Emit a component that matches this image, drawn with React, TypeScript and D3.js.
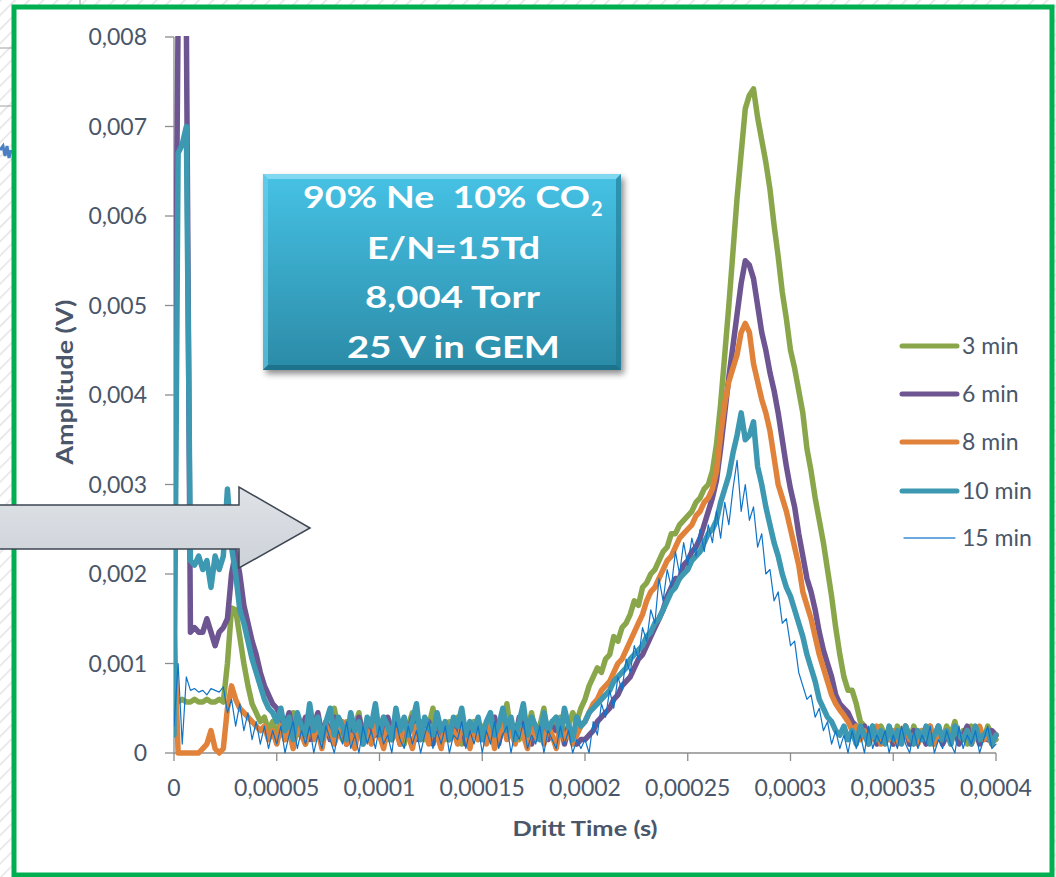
import React from "react";
import * as d3 from "d3";

// Sampling grid of the oscilloscope traces (microseconds); amplitudes in mV.
const timeUs: number[] = d3.range(0, 401, 2);

const xTickValues = [0, 50, 100, 150, 200, 250, 300, 350, 400];
const xTickLabels = ["0", "0,00005", "0,0001", "0,00015", "0,0002", "0,00025", "0,0003", "0,00035", "0,0004"];
const yTickValues = [0, 1, 2, 3, 4, 5, 6, 7, 8];
const yTickLabels = ["0", "0,001", "0,002", "0,003", "0,004", "0,005", "0,006", "0,007", "0,008"];

const seriesNames = ["3 min", "6 min", "8 min", "10 min", "15 min"];

const min3 = [
  0.57, 0.57, 0.6, 0.57, 0.57, 0.6, 0.57, 0.57, 0.6, 0.57, 0.57, 0.6, 0.57, 1.0, 1.62, 1.6, 1.3, 1.0, 0.75, 0.55, 0.45, 0.35, 0.4, 0.25, 0.35,
  0.2, 0.35, 0.15, 0.3, 0.45, 0.2, 0.3, 0.1, 0.35, 0.25, 0.4, 0.15, 0.3, 0.2, 0.5, 0.25, 0.15, 0.35, 0.2, 0.3, 0.45, 0.1, 0.3, 0.2, 0.35,
  0.25, 0.4, 0.15, 0.3, 0.2, 0.35, 0.1, 0.3, 0.45, 0.2, 0.35, 0.15, 0.3, 0.5, 0.2, 0.3, 0.15, 0.35, 0.25, 0.4, 0.1, 0.3, 0.2, 0.35, 0.15,
  0.3, 0.2, 0.4, 0.15, 0.35, 0.25, 0.55, 0.2, 0.3, 0.15, 0.35, 0.25, 0.45, 0.2, 0.3, 0.5, 0.15, 0.35, 0.25, 0.4, 0.2, 0.3, 0.45, 0.35, 0.5,
  0.6, 0.75, 0.85, 0.95, 0.9, 1.05, 1.1, 1.3, 1.25, 1.4, 1.45, 1.55, 1.7, 1.65, 1.85, 1.9, 2.0, 2.05, 2.15, 2.25, 2.3, 2.45, 2.45, 2.55, 2.6,
  2.65, 2.7, 2.8, 2.85, 2.95, 3.0, 3.15, 3.45, 3.9, 4.45, 5.0, 5.6, 6.2, 6.7, 7.2, 7.35, 7.42, 7.1, 6.85, 6.6, 6.3, 5.9, 5.55, 5.15, 4.85,
  4.5, 4.3, 4.05, 3.8, 3.4, 3.15, 2.85, 2.6, 2.35, 2.05, 1.75, 1.4, 1.1, 0.85, 0.7, 0.7, 0.55, 0.35, 0.3, 0.2, 0.3, 0.15, 0.3, 0.2, 0.25,
  0.1, 0.3, 0.2, 0.25, 0.1, 0.3, 0.15, 0.25, 0.2, 0.3, 0.1, 0.25, 0.15, 0.3, 0.2, 0.35, 0.15, 0.25, 0.1, 0.3, 0.2, 0.25, 0.15, 0.3, 0.2,
  0.15,
];

const min6 = [
  2.8, 8.2, 8.2, 8.2, 1.35, 1.4, 1.35, 1.35, 1.5, 1.35, 1.2, 1.35, 1.4, 1.5, 2.0, 2.25, 2.0, 1.65, 1.45, 1.25, 1.1, 0.9, 0.75, 0.65, 0.55,
  0.5, 0.4, 0.3, 0.45, 0.2, 0.35, 0.25, 0.4, 0.15, 0.3, 0.45, 0.2, 0.35, 0.15, 0.4, 0.25, 0.3, 0.1, 0.35, 0.2, 0.4, 0.25, 0.15, 0.35, 0.2,
  0.3, 0.15, 0.4, 0.25, 0.35, 0.1, 0.3, 0.2, 0.4, 0.15, 0.3, 0.25, 0.35, 0.1, 0.4, 0.2, 0.3, 0.15, 0.35, 0.25, 0.4, 0.1, 0.3, 0.2, 0.35,
  0.15, 0.3, 0.25, 0.4, 0.1, 0.35, 0.2, 0.3, 0.15, 0.4, 0.25, 0.35, 0.1, 0.3, 0.2, 0.4, 0.15, 0.3, 0.25, 0.35, 0.1, 0.3, 0.2, 0.1, 0.15,
  0.15, 0.2, 0.25, 0.35, 0.4, 0.45, 0.5, 0.6, 0.65, 0.75, 0.8, 0.85, 0.95, 1.05, 1.1, 1.2, 1.3, 1.4, 1.5, 1.6, 1.75, 1.85, 1.95, 1.95, 2.1,
  2.15, 2.25, 2.3, 2.4, 2.55, 2.7, 2.85, 3.05, 3.4, 3.8, 4.2, 4.55, 4.9, 5.25, 5.5, 5.45, 5.3, 5.0, 4.7, 4.5, 4.25, 4.05, 3.8, 3.5, 3.2,
  2.95, 2.75, 2.45, 2.2, 1.95, 1.8, 1.6, 1.35, 1.15, 1.0, 0.85, 0.65, 0.55, 0.5, 0.45, 0.35, 0.3, 0.2, 0.3, 0.15, 0.25, 0.1, 0.2, 0.15, 0.25,
  0.1, 0.2, 0.15, 0.3, 0.1, 0.25, 0.15, 0.2, 0.1, 0.25, 0.15, 0.3, 0.1, 0.2, 0.15, 0.25, 0.1, 0.2, 0.3, 0.15, 0.25, 0.1, 0.2, 0.15, 0.25,
  0.2,
];

const min8 = [
  1.45, 0.0, 0.0, 0.0, 0.0, 0.0, 0.0, 0.05, 0.1, 0.25, 0.05, 0.0, 0.05, 0.5, 0.75, 0.6, 0.5, 0.45, 0.4, 0.35, 0.3, 0.25, 0.3, 0.15, 0.25,
  0.1, 0.3, 0.15, 0.25, 0.05, 0.3, 0.2, 0.1, 0.35, 0.15, 0.25, 0.05, 0.3, 0.2, 0.1, 0.25, 0.35, 0.1, 0.2, 0.05, 0.3, 0.15, 0.25, 0.1, 0.3,
  0.2, 0.05, 0.3, 0.15, 0.25, 0.1, 0.35, 0.2, 0.05, 0.3, 0.15, 0.25, 0.1, 0.3, 0.2, 0.05, 0.35, 0.15, 0.25, 0.1, 0.3, 0.2, 0.05, 0.3, 0.15,
  0.25, 0.1, 0.3, 0.05, 0.2, 0.35, 0.15, 0.25, 0.1, 0.3, 0.2, 0.05, 0.35, 0.15, 0.25, 0.1, 0.3, 0.2, 0.05, 0.3, 0.15, 0.25, 0.1, 0.2, 0.3,
  0.35, 0.45, 0.55, 0.6, 0.7, 0.75, 0.8, 0.9, 1.0, 1.05, 1.15, 1.25, 1.35, 1.45, 1.55, 1.7, 1.8, 1.85, 1.95, 2.05, 2.15, 2.2, 2.3, 2.4, 2.45,
  2.5, 2.55, 2.65, 2.7, 2.8, 2.85, 2.95, 3.15, 3.55, 3.9, 4.15, 4.3, 4.45, 4.7, 4.8, 4.7, 4.35, 4.15, 3.95, 3.8, 3.6, 3.3, 3.0, 2.85, 2.7,
  2.5, 2.3, 2.1, 1.8, 1.65, 1.5, 1.3, 1.1, 0.95, 0.8, 0.65, 0.55, 0.48, 0.42, 0.35, 0.25, 0.3, 0.15, 0.25, 0.1, 0.2, 0.3, 0.1, 0.2, 0.15,
  0.25, 0.1, 0.2, 0.3, 0.15, 0.2, 0.1, 0.25, 0.15, 0.3, 0.1, 0.2, 0.15, 0.25, 0.1, 0.3, 0.2, 0.15, 0.25, 0.1, 0.2, 0.3, 0.15, 0.2, 0.1,
  0.2,
];

const min10 = [
  0.2, 6.7, 6.8, 7.0, 2.15, 2.1, 2.2, 2.05, 2.15, 1.85, 2.2, 2.05, 2.2, 2.95, 2.3, 2.0, 1.6, 1.45, 1.25, 1.05, 0.9, 0.75, 0.6, 0.5, 0.45,
  0.35, 0.5, 0.25, 0.4, 0.15, 0.45, 0.3, 0.2, 0.55, 0.25, 0.4, 0.15, 0.35, 0.5, 0.2, 0.4, 0.3, 0.15, 0.45, 0.25, 0.35, 0.1, 0.4, 0.3, 0.55,
  0.2, 0.4, 0.3, 0.15, 0.5, 0.25, 0.4, 0.2, 0.35, 0.55, 0.15, 0.4, 0.3, 0.2, 0.45, 0.25, 0.35, 0.15, 0.4, 0.3, 0.5, 0.2, 0.35, 0.25, 0.4,
  0.15, 0.35, 0.45, 0.2, 0.3, 0.5, 0.25, 0.4, 0.15, 0.35, 0.55, 0.2, 0.4, 0.3, 0.15, 0.45, 0.25, 0.35, 0.4, 0.2, 0.5, 0.3, 0.15, 0.4, 0.3,
  0.35, 0.45, 0.5, 0.55, 0.6, 0.65, 0.7, 0.8, 0.85, 0.9, 0.95, 1.05, 1.1, 1.15, 1.2, 1.3, 1.35, 1.45, 1.5, 1.6, 1.7, 1.8, 1.85, 1.95, 2.0,
  2.05, 2.15, 2.2, 2.25, 2.35, 2.45, 2.5, 2.6, 2.8, 2.95, 3.1, 3.35, 3.55, 3.8, 3.5, 3.55, 3.7, 3.2, 3.0, 2.75, 2.55, 2.35, 2.2, 2.0, 1.85,
  1.75, 1.6, 1.45, 1.3, 1.1, 0.95, 0.8, 0.6, 0.5, 0.4, 0.35, 0.25, 0.2, 0.3, 0.15, 0.25, 0.1, 0.3, 0.2, 0.1, 0.3, 0.15, 0.25, 0.1, 0.3,
  0.15, 0.25, 0.1, 0.3, 0.2, 0.1, 0.25, 0.15, 0.3, 0.1, 0.2, 0.3, 0.15, 0.25, 0.1, 0.3, 0.2, 0.15, 0.25, 0.1, 0.3, 0.15, 0.2, 0.25, 0.1,
  0.2,
];

const min15 = [
  0.3, 1.0, 0.1, 0.85, 0.7, 0.72, 0.68, 0.7, 0.65, 0.72, 0.7, 0.68, 0.74, 0.45, 0.6, 0.3, 0.55, 0.25, 0.45, 0.15, 0.35, 0.1, 0.3, 0.05, 0.25,
  0.1, 0.3, 0.0, 0.2, 0.35, 0.05, 0.25, 0.1, 0.3, 0.0, 0.2, 0.05, 0.3, 0.15, 0.0, 0.25, 0.1, 0.35, 0.05, 0.2, 0.0, 0.3, 0.1, 0.25, 0.05,
  0.3, 0.1, 0.2, 0.0, 0.35, 0.15, 0.05, 0.3, 0.1, 0.25, 0.0, 0.2, 0.35, 0.05, 0.25, 0.1, 0.3, 0.0, 0.2, 0.15, 0.35, 0.05, 0.25, 0.1, 0.3,
  0.0, 0.25, 0.1, 0.35, 0.05, 0.2, 0.3, 0.0, 0.25, 0.15, 0.35, 0.05, 0.2, 0.1, 0.3, 0.0, 0.25, 0.15, 0.05, 0.3, 0.1, 0.25, 0.0, 0.15, 0.05,
  0.15, 0.0, 0.35, 0.2, 0.55, 0.4, 0.7, 0.5, 0.85, 0.7, 1.05, 0.9, 1.2, 1.05, 1.4, 1.25, 1.6, 1.45, 1.95, 1.7, 2.05, 1.85, 2.25, 2.0, 2.35,
  2.1, 2.4, 2.2, 2.5, 2.25, 2.55, 2.35, 2.7, 2.4, 2.8, 2.55, 2.95, 3.27, 2.7, 3.0, 2.6, 2.75, 2.3, 2.45, 2.0, 2.05, 1.7, 1.8, 1.45, 1.5,
  1.2, 1.25, 0.9, 0.75, 0.6, 0.65, 0.4, 0.5, 0.25, 0.35, 0.1, 0.25, 0.05, 0.2, 0.0, 0.25, 0.05, 0.2, 0.0, 0.3, 0.05, 0.2, 0.1, 0.25, 0.0,
  0.2, 0.05, 0.3, 0.1, 0.0, 0.25, 0.05, 0.2, 0.1, 0.3, 0.0, 0.15, 0.05, 0.25, 0.1, 0.0, 0.3, 0.05, 0.2, 0.1, 0.25, 0.0, 0.15, 0.3, 0.05,
  0.1,
];

const seriesValues = [min3, min6, min8, min10, min15];
const seriesColors = ["#8aa64b", "#6d5592", "#e0823a", "#3d98b1", "#0f74c8"];
const seriesWidths = [5.5, 5.5, 5.5, 5.5, 1.2];

const FONT = "Lato, 'Open Sans', sans-serif";
const TEXT = "#4a5669";

export default function App() {
  const x = d3.scaleLinear().domain([0, 400]).range([174, 996]);
  const y = d3.scaleLinear().domain([0, 8]).range([753, 37]);
  const line = d3
    .line<number>()
    .x((_, i) => x(timeUs[i]))
    .y((d) => y(d));

  const legendY = [346, 394, 442, 491, 538];

  return (
    <svg
      width={1056}
      height={877}
      style={{ position: "absolute", left: 0, top: 0, display: "block" }}
      fontFamily={FONT}
    >
      <defs>
        <pattern id="hatch" width="10" height="10" patternUnits="userSpaceOnUse" patternTransform="rotate(45)">
          <rect width="10" height="10" fill="#ffffff" />
          <line x1="0" y1="0" x2="0" y2="10" stroke="#e3e3e3" strokeWidth="3" />
        </pattern>
        <clipPath id="plotClip">
          <rect x={174} y={36} width={826} height={730} />
        </clipPath>
        <linearGradient id="boxGrad" x1="0" y1="0" x2="0" y2="1">
          <stop offset="0" stopColor="#46c2e5" />
          <stop offset="1" stopColor="#2b8ba7" />
        </linearGradient>
        <linearGradient id="arrowGrad" x1="0" y1="0" x2="0" y2="1">
          <stop offset="0" stopColor="#dfe3e8" />
          <stop offset="1" stopColor="#cdd2d8" />
        </linearGradient>
        <filter id="shadow" x="-10%" y="-10%" width="130%" height="140%">
          <feGaussianBlur in="SourceAlpha" stdDeviation="3" />
          <feOffset dx="3" dy="4" result="b" />
          <feComponentTransfer>
            <feFuncA type="linear" slope="0.45" />
          </feComponentTransfer>
          <feMerge>
            <feMergeNode />
            <feMergeNode in="SourceGraphic" />
          </feMerge>
        </filter>
      </defs>

      {/* slide background outside the frame */}
      <rect x={0} y={0} width={1056} height={877} fill="url(#hatch)" />
      <line x1={80} y1={0} x2={80} y2={5} stroke="#9a9a9a" strokeWidth={1} />
      <line x1={0} y1={48} x2={12} y2={48} stroke="#a0a0a0" strokeWidth={1} />
      <line x1={0} y1={106} x2={12} y2={106} stroke="#a0a0a0" strokeWidth={1} />
      <path d="M0,150 L3,146 L5,156 L7,146 L9,158 L11,150" fill="none" stroke="#4a7fc4" strokeWidth={3} />

      {/* chart frame */}
      <rect x={14} y={7} width={1038} height={868} fill="#ffffff" stroke="#00b050" strokeWidth={5} />

      {/* axes */}
      <line x1={174} y1={37} x2={174} y2={753} stroke="#8c8c8c" strokeWidth={1.3} />
      <line x1={174} y1={753} x2={996} y2={753} stroke="#8c8c8c" strokeWidth={1.3} />
      {yTickValues.map((v, i) => (
        <g key={"y" + i}>
          <line x1={165} y1={y(v)} x2={174} y2={y(v)} stroke="#8c8c8c" strokeWidth={1.3} />
          <text x={147} y={y(v) + 8} textAnchor="end" fontSize={23} fill={TEXT}>
            {yTickLabels[i]}
          </text>
        </g>
      ))}
      {xTickValues.map((v, i) => (
        <g key={"x" + i}>
          <line x1={x(v)} y1={753} x2={x(v)} y2={761} stroke="#8c8c8c" strokeWidth={1.3} />
          <text x={x(v)} y={796} textAnchor="middle" fontSize={23} fill={TEXT}>
            {xTickLabels[i]}
          </text>
        </g>
      ))}
      <text x={585} y={836} textAnchor="middle" fontSize={21} fontWeight="bold" fill={TEXT} textLength={145} lengthAdjust="spacingAndGlyphs">
        Dritt Time (s)
      </text>
      <text
        transform="translate(73,382) rotate(-90)"
        textAnchor="middle"
        fontSize={22}
        fontWeight="bold"
        fill={TEXT}
        textLength={165}
        lengthAdjust="spacingAndGlyphs"
      >
        Amplitude (V)
      </text>

      {/* series */}
      <g clipPath="url(#plotClip)">
        {seriesValues.map((vals, si) => (
          <path
            key={seriesNames[si]}
            d={line(vals) || ""}
            fill="none"
            stroke={seriesColors[si]}
            strokeWidth={seriesWidths[si]}
            strokeLinejoin="round"
            strokeLinecap="round"
          />
        ))}
      </g>

      {/* legend */}
      {seriesNames.map((n, i) => (
        <g key={"lg" + i}>
          <line
            x1={i === 4 ? 904 : 902}
            y1={legendY[i]}
            x2={i === 4 ? 955 : 957}
            y2={legendY[i]}
            stroke={i === 4 ? "#3a8fd6" : seriesColors[i]}
            strokeWidth={i === 4 ? 1.3 : 5}
            strokeLinecap="round"
          />
          <text x={962} y={legendY[i] + 8} fontSize={23} fill={TEXT}>
            {n}
          </text>
        </g>
      ))}

      {/* info box */}
      <g filter="url(#shadow)">
        <rect x={263} y={174} width={358} height={196} fill="url(#boxGrad)" />
      </g>
      <polygon points="263,174 621,174 616,179 268,179" fill="#8fdcf2" opacity={0.8} />
      <polygon points="263,174 268,179 268,365 263,370" fill="#6fd0ec" opacity={0.6} />
      <polygon points="621,174 621,370 616,365 616,179" fill="#1f7690" opacity={0.6} />
      <polygon points="263,370 621,370 616,365 268,365" fill="#1a6880" opacity={0.7} />
      <g fill="#ffffff" fontWeight="bold" fontSize={30}>
        <text x={303} y={208} xmlSpace="preserve" style={{ whiteSpace: "pre" }} textLength={287} lengthAdjust="spacingAndGlyphs">
          {"90% Ne  10% CO"}
        </text>
        <text x={591} y={216} fontSize={20}>
          2
        </text>
        <text x={367} y={259} textLength={173} lengthAdjust="spacingAndGlyphs">
          E/N=15Td
        </text>
        <text x={365} y={308} textLength={175} lengthAdjust="spacingAndGlyphs">
          8,004 Torr
        </text>
        <text x={347} y={358} textLength={213} lengthAdjust="spacingAndGlyphs">
          25 V in GEM
        </text>
      </g>

      {/* block arrow */}
      <polygon
        points="-10,505 239,505 239,487 310,528 239,568 239,549 -10,549"
        fill="url(#arrowGrad)"
        stroke="#3d4653"
        strokeWidth={1.5}
        strokeLinejoin="miter"
      />
    </svg>
  );
}
